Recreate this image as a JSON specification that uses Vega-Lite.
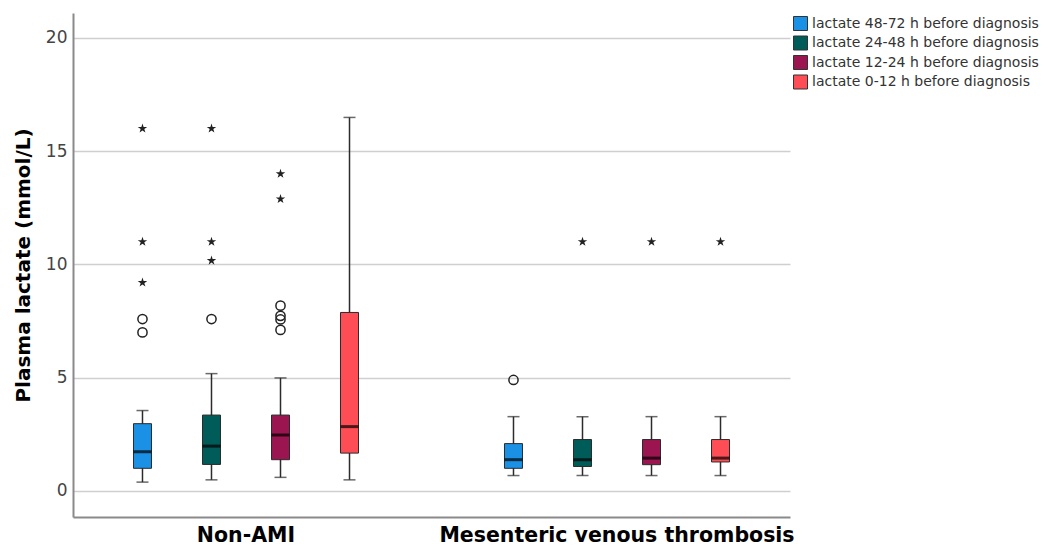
{
  "$schema": "https://vega.github.io/schema/vega-lite/v6.json",
  "width": 717,
  "height": 504,
  "autosize": {"type": "none"},
  "padding": {"left": 73, "top": 13, "right": 255, "bottom": 30},
  "background": "white",
  "config": {"view": {"stroke": null}, "font": "DejaVu Sans"},
  "datasets": {
    "boxes": [
      {"group": "Non-AMI", "series": "lactate 48-72 h before diagnosis", "lower": 0.39, "q1": 1.0, "median": 1.73, "q3": 2.97, "upper": 3.55},
      {"group": "Non-AMI", "series": "lactate 24-48 h before diagnosis", "lower": 0.49, "q1": 1.17, "median": 1.98, "q3": 3.35, "upper": 5.18},
      {"group": "Non-AMI", "series": "lactate 12-24 h before diagnosis", "lower": 0.6, "q1": 1.38, "median": 2.47, "q3": 3.35, "upper": 4.99},
      {"group": "Non-AMI", "series": "lactate 0-12 h before diagnosis", "lower": 0.49, "q1": 1.67, "median": 2.84, "q3": 7.88, "upper": 16.49},
      {"group": "Mesenteric venous thrombosis", "series": "lactate 48-72 h before diagnosis", "lower": 0.68, "q1": 1.0, "median": 1.38, "q3": 2.09, "upper": 3.28},
      {"group": "Mesenteric venous thrombosis", "series": "lactate 24-48 h before diagnosis", "lower": 0.68, "q1": 1.08, "median": 1.38, "q3": 2.27, "upper": 3.28},
      {"group": "Mesenteric venous thrombosis", "series": "lactate 12-24 h before diagnosis", "lower": 0.68, "q1": 1.16, "median": 1.45, "q3": 2.27, "upper": 3.28},
      {"group": "Mesenteric venous thrombosis", "series": "lactate 0-12 h before diagnosis", "lower": 0.68, "q1": 1.28, "median": 1.45, "q3": 2.27, "upper": 3.28}
    ],
    "outliers": [
      {"group": "Non-AMI", "series": "lactate 48-72 h before diagnosis", "value": 7.59, "kind": "outlier"},
      {"group": "Non-AMI", "series": "lactate 48-72 h before diagnosis", "value": 7.0, "kind": "outlier"},
      {"group": "Non-AMI", "series": "lactate 48-72 h before diagnosis", "value": 16.0, "kind": "extreme"},
      {"group": "Non-AMI", "series": "lactate 48-72 h before diagnosis", "value": 11.0, "kind": "extreme"},
      {"group": "Non-AMI", "series": "lactate 48-72 h before diagnosis", "value": 9.2, "kind": "extreme"},
      {"group": "Non-AMI", "series": "lactate 24-48 h before diagnosis", "value": 7.59, "kind": "outlier"},
      {"group": "Non-AMI", "series": "lactate 24-48 h before diagnosis", "value": 16.0, "kind": "extreme"},
      {"group": "Non-AMI", "series": "lactate 24-48 h before diagnosis", "value": 11.0, "kind": "extreme"},
      {"group": "Non-AMI", "series": "lactate 24-48 h before diagnosis", "value": 10.17, "kind": "extreme"},
      {"group": "Non-AMI", "series": "lactate 12-24 h before diagnosis", "value": 8.18, "kind": "outlier"},
      {"group": "Non-AMI", "series": "lactate 12-24 h before diagnosis", "value": 7.73, "kind": "outlier"},
      {"group": "Non-AMI", "series": "lactate 12-24 h before diagnosis", "value": 7.57, "kind": "outlier"},
      {"group": "Non-AMI", "series": "lactate 12-24 h before diagnosis", "value": 7.11, "kind": "outlier"},
      {"group": "Non-AMI", "series": "lactate 12-24 h before diagnosis", "value": 14.0, "kind": "extreme"},
      {"group": "Non-AMI", "series": "lactate 12-24 h before diagnosis", "value": 12.89, "kind": "extreme"},
      {"group": "Mesenteric venous thrombosis", "series": "lactate 48-72 h before diagnosis", "value": 4.9, "kind": "outlier"},
      {"group": "Mesenteric venous thrombosis", "series": "lactate 24-48 h before diagnosis", "value": 11.0, "kind": "extreme"},
      {"group": "Mesenteric venous thrombosis", "series": "lactate 12-24 h before diagnosis", "value": 11.0, "kind": "extreme"},
      {"group": "Mesenteric venous thrombosis", "series": "lactate 0-12 h before diagnosis", "value": 11.0, "kind": "extreme"}
    ]
  },
  "encoding": {
    "x": {
      "field": "group",
      "type": "nominal",
      "sort": ["Non-AMI", "Mesenteric venous thrombosis"],
      "scale": {"paddingInner": 0.256, "paddingOuter": 0.0943},
      "axis": {
        "title": null,
        "labelAngle": 0,
        "labelFontSize": 20.5,
        "labelFontWeight": "bold",
        "labelColor": "#000000",
        "labelPadding": 8,
        "labelLimit": 600,
        "ticks": false,
        "grid": false,
        "domain": true,
        "domainColor": "#8a8a8a",
        "domainWidth": 2
      }
    },
    "xOffset": {
      "field": "series",
      "type": "nominal",
      "sort": ["lactate 48-72 h before diagnosis", "lactate 24-48 h before diagnosis", "lactate 12-24 h before diagnosis", "lactate 0-12 h before diagnosis"],
      "scale": {"paddingInner": 0, "paddingOuter": 0}
    }
  },
  "layer": [
    {
      "data": {"name": "boxes"},
      "mark": {"type": "rule", "color": "#2b2b2b", "strokeWidth": 1.5},
      "encoding": {
        "y": {
          "field": "lower",
          "type": "quantitative",
          "scale": {"domain": [-1.15, 21.1], "nice": false, "zero": false},
          "axis": {
            "values": [0, 5, 10, 15, 20],
            "grid": true,
            "gridColor": "#cfcfcf",
            "gridWidth": 1.5,
            "ticks": false,
            "domain": true,
            "domainColor": "#8a8a8a",
            "domainWidth": 2,
            "labelFontSize": 17,
            "labelColor": "#444444",
            "labelPadding": 6,
            "title": "Plasma lactate (mmol/L)",
            "titleFontSize": 20,
            "titleFontWeight": "bold",
            "titleColor": "#000000",
            "titlePadding": 12
          }
        },
        "y2": {"field": "upper"}
      }
    },
    {
      "data": {"name": "boxes"},
      "mark": {"type": "tick", "color": "#2b2b2b", "thickness": 1.5, "size": 12},
      "encoding": {"y": {"field": "lower", "type": "quantitative"}}
    },
    {
      "data": {"name": "boxes"},
      "mark": {"type": "tick", "color": "#2b2b2b", "thickness": 1.5, "size": 12},
      "encoding": {"y": {"field": "upper", "type": "quantitative"}}
    },
    {
      "data": {"name": "boxes"},
      "mark": {"type": "bar", "size": 18, "stroke": "#2b2b2b", "strokeWidth": 1, "opacity": 1},
      "encoding": {
        "y": {"field": "q1", "type": "quantitative"},
        "y2": {"field": "q3"},
        "color": {
          "field": "series",
          "type": "nominal",
          "sort": ["lactate 48-72 h before diagnosis", "lactate 24-48 h before diagnosis", "lactate 12-24 h before diagnosis", "lactate 0-12 h before diagnosis"],
          "scale": {"range": ["#1a91e5", "#005c58", "#9b1650", "#ff4d55"]},
          "legend": {
            "title": null,
            "orient": "none",
            "legendX": 720,
            "legendY": 3,
            "padding": 0,
            "symbolType": "square",
            "symbolSize": 196,
            "symbolStrokeColor": "#333333",
            "symbolStrokeWidth": 1,
            "symbolOpacity": 1,
            "labelFontSize": 14,
            "labelColor": "#333333",
            "labelOffset": 4,
            "labelLimit": 400,
            "rowPadding": 0.5
          }
        }
      }
    },
    {
      "data": {"name": "boxes"},
      "mark": {"type": "tick", "color": "#000000", "thickness": 3, "size": 18},
      "encoding": {"y": {"field": "median", "type": "quantitative"}}
    },
    {
      "data": {"name": "outliers"},
      "transform": [{"filter": "datum.kind === 'outlier'"}],
      "mark": {"type": "point", "shape": "circle", "filled": false, "size": 85, "strokeWidth": 1.5, "color": "#222222", "opacity": 1},
      "encoding": {"y": {"field": "value", "type": "quantitative"}}
    },
    {
      "data": {"name": "outliers"},
      "transform": [{"filter": "datum.kind === 'extreme'"}],
      "mark": {
        "type": "point",
        "shape": "M0,-1L0.2245,-0.309L0.951,-0.309L0.363,0.118L0.588,0.809L0,0.382L-0.588,0.809L-0.363,0.118L-0.951,-0.309L-0.2245,-0.309Z",
        "filled": true,
        "size": 100,
        "color": "#222222",
        "opacity": 1
      },
      "encoding": {"y": {"field": "value", "type": "quantitative"}}
    }
  ]
}
